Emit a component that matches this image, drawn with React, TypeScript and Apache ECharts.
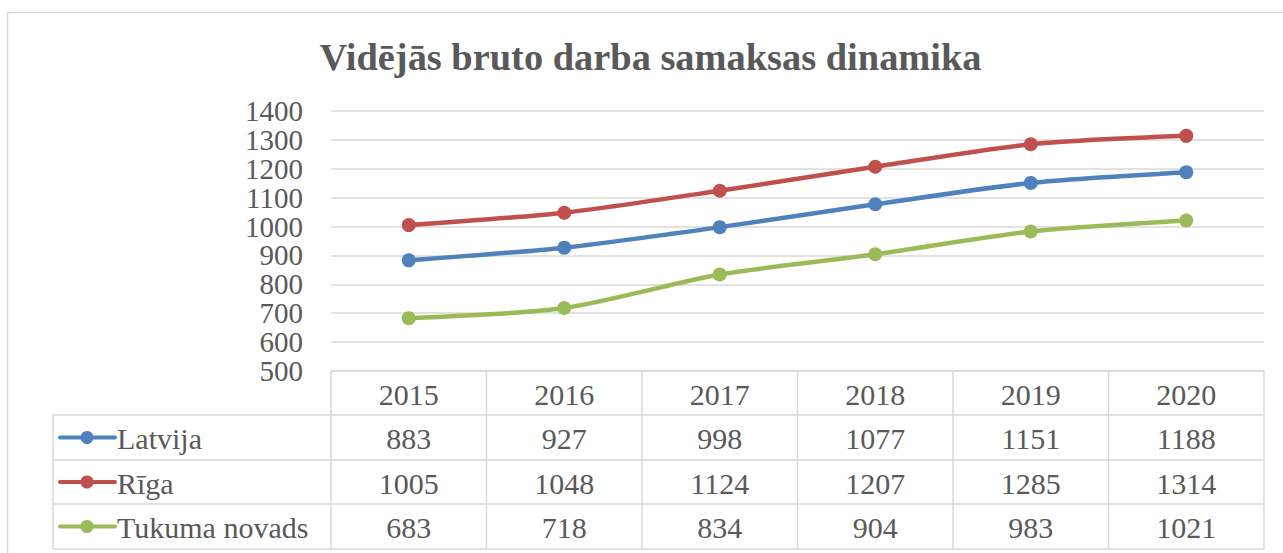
import React, { useEffect, useRef } from "react";
import * as echarts from "echarts";

const title = "Vidējās bruto darba samaksas dinamika";
const years = ["2015", "2016", "2017", "2018", "2019", "2020"];
const seriesNames = ["Latvija", "Rīga", "Tukuma novads"];
const latvija = [883, 927, 998, 1077, 1151, 1188];
const riga = [1005, 1048, 1124, 1207, 1285, 1314];
const tukums = [683, 718, 834, 904, 983, 1021];
const colors = ["#4F81BD", "#C0504D", "#9BBB59"];
const yTicks = { min: 500, max: 1400, interval: 100 };

const W = 1283;
const H = 553;
const GRID_L = 331;
const GRID_R = 1264;
const GRID_T = 111;
const GRID_B = 371;
const TABLE_L = 53;
const ROW_Y = [371, 415, 460, 504, 549];
const FONT = "'Liberation Serif', 'Times New Roman', serif";
const TEXT_COLOR = "#595959";
const BORDER = "#D9D9D9";

export default function App() {
  const ref = useRef<HTMLDivElement>(null);
  useEffect(() => {
    if (!ref.current) return;
    const chart = echarts.init(ref.current, undefined, { renderer: "svg" });
    const data = [latvija, riga, tukums];
    const colW = (GRID_R - GRID_L) / years.length;
    const graphics: any[] = [];
    graphics.push({
      type: "rect",
      shape: { x: 7.5, y: 12.5, width: 1400, height: 700 },
      style: { fill: "none", stroke: BORDER, lineWidth: 1.5 },
      silent: true,
    });
    graphics.push({
      type: "text",
      x: 650.5,
      y: 57,
      style: {
        text: title,
        font: `bold 38.4px ${FONT}`,
        fill: TEXT_COLOR,
        align: "center",
        verticalAlign: "middle",
      },
    });
    const line = (x1: number, y1: number, x2: number, y2: number) => ({
      type: "line",
      shape: { x1, y1, x2, y2 },
      style: { stroke: BORDER, lineWidth: 1.5 },
      silent: true,
    });
    graphics.push(line(GRID_L, ROW_Y[0], GRID_R, ROW_Y[0]));
    for (let r = 1; r < ROW_Y.length; r++) graphics.push(line(TABLE_L, ROW_Y[r], GRID_R, ROW_Y[r]));
    graphics.push(line(TABLE_L, ROW_Y[1], TABLE_L, ROW_Y[4]));
    for (let c = 0; c <= years.length; c++) {
      const x = GRID_L + c * colW;
      graphics.push(line(x, ROW_Y[0], x, ROW_Y[4]));
    }
    years.forEach((y, i) => {
      graphics.push({
        type: "text",
        x: GRID_L + (i + 0.5) * colW,
        y: (ROW_Y[0] + ROW_Y[1]) / 2 + 1,
        style: { text: y, font: `30px ${FONT}`, fill: TEXT_COLOR, align: "center", verticalAlign: "middle" },
      });
    });
    seriesNames.forEach((name, r) => {
      const cy = (ROW_Y[r + 1] + ROW_Y[r + 2]) / 2 + 1;
      graphics.push({
        type: "line",
        shape: { x1: 60, y1: cy - 1, x2: 115, y2: cy - 1 },
        style: { stroke: colors[r], lineWidth: 4, lineCap: "round" },
      });
      graphics.push({
        type: "circle",
        shape: { cx: 87, cy: cy - 1, r: 6.5 },
        style: { fill: colors[r] },
      });
      graphics.push({
        type: "text",
        x: 117,
        y: cy,
        style: { text: name, font: `30px ${FONT}`, fill: TEXT_COLOR, align: "left", verticalAlign: "middle" },
      });
      data[r].forEach((v, i) => {
        graphics.push({
          type: "text",
          x: GRID_L + (i + 0.5) * colW,
          y: cy,
          style: { text: String(v), font: `30px ${FONT}`, fill: TEXT_COLOR, align: "center", verticalAlign: "middle" },
        });
      });
    });

    chart.setOption({
      animation: false,
      backgroundColor: "#fff",
      grid: { left: GRID_L, right: W - GRID_R, top: GRID_T, bottom: H - GRID_B, containLabel: false },
      xAxis: {
        type: "category",
        data: years,
        boundaryGap: true,
        axisLine: { show: false },
        axisTick: { show: false },
        axisLabel: { show: false },
      },
      yAxis: {
        type: "value",
        min: yTicks.min,
        max: yTicks.max,
        interval: yTicks.interval,
        axisLine: { show: false },
        axisTick: { show: false },
        axisLabel: {
          fontSize: 29,
          lineHeight: 28,
          fontFamily: FONT,
          color: TEXT_COLOR,
          margin: 28,
          showMinLabel: true,
          showMaxLabel: true,
          hideOverlap: false,
          formatter: (v: number) => String(v),
        },
        splitLine: { lineStyle: { color: BORDER, width: 1.5 } },
      },
      series: seriesNames.map((name, r) => ({
        name,
        type: "line",
        data: data[r],
        smooth: 0.25,
        symbol: "circle",
        symbolSize: 14,
        itemStyle: { color: colors[r] },
        lineStyle: { color: colors[r], width: 4.5 },
        z: 3,
      })),
      graphic: graphics,
    });
    return () => chart.dispose();
  }, []);
  return <div ref={ref} style={{ position: "fixed", left: 0, top: 0, width: W, height: H }} />;
}
